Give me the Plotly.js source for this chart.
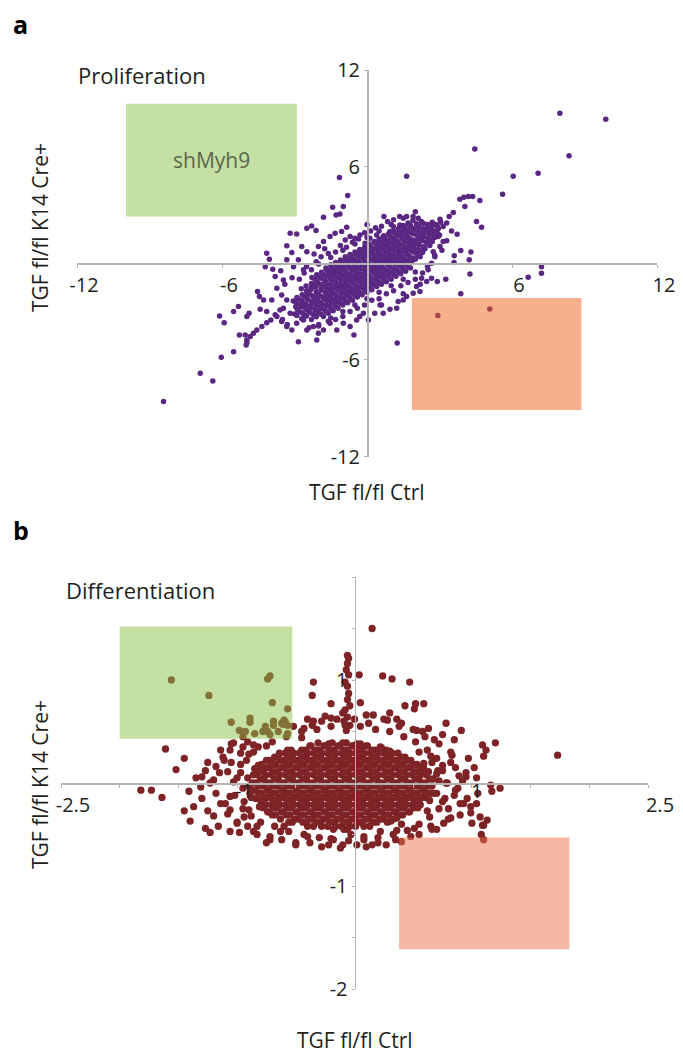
<!DOCTYPE html>
<html><head><meta charset="utf-8">
<script src="https://cdn.plot.ly/plotly-3.0.1.min.js"></script>
<style>html,body{margin:0;padding:0;background:#fff}#chart{width:683px;height:1057px}</style>
</head><body><div id="chart"></div>
<script>
// ---------- Panel a: Proliferation (x = TGF fl/fl Ctrl, y = TGF fl/fl K14 Cre+) ----------
const prolifCore = [
[-3.0,-3.15],[-2.95,-2.7],[-3.05,-2.35],
[-2.8,-3.0],[-2.75,-2.55],[-2.85,-2.2],
[-2.6,-3.2],[-2.55,-2.8],[-2.65,-2.45],[-2.6,-2.05],[-2.5,-1.7],
[-2.4,-3.0],[-2.35,-2.65],[-2.45,-2.25],[-2.4,-1.9],[-2.3,-1.5],
[-2.2,-3.2],[-2.15,-2.85],[-2.25,-2.45],[-2.2,-2.1],[-2.1,-1.75],[-2.25,-1.35],[-2.15,-1.0],
[-2.0,-3.05],[-1.95,-2.7],[-2.05,-2.3],[-2.0,-1.95],[-1.9,-1.55],[-2.05,-1.2],[-1.95,-0.85],
[-1.8,-3.3],[-1.75,-2.9],[-1.85,-2.55],[-1.8,-2.15],[-1.7,-1.8],[-1.85,-1.4],[-1.75,-1.05],[-1.8,-0.7],[-1.7,-0.3],
[-1.6,-3.1],[-1.55,-2.7],[-1.65,-2.35],[-1.6,-2.0],[-1.5,-1.6],[-1.65,-1.25],[-1.55,-0.85],[-1.6,-0.5],[-1.5,-0.1],
[-1.4,-2.95],[-1.35,-2.55],[-1.45,-2.2],[-1.4,-1.85],[-1.3,-1.45],[-1.45,-1.05],[-1.35,-0.7],[-1.4,-0.35],[-1.3,0.05],
[-1.2,-2.8],[-1.15,-2.4],[-1.25,-2.05],[-1.2,-1.65],[-1.1,-1.3],[-1.25,-0.9],[-1.15,-0.55],[-1.2,-0.2],[-1.1,0.2],
[-1.0,-2.6],[-0.95,-2.2],[-1.05,-1.85],[-1.0,-1.5],[-0.9,-1.1],[-1.05,-0.75],[-0.95,-0.35],[-1.0,0.0],[-0.9,0.4],
[-0.8,-2.45],[-0.75,-2.05],[-0.85,-1.7],[-0.8,-1.35],[-0.7,-0.95],[-0.85,-0.6],[-0.75,-0.2],[-0.8,0.15],[-0.7,0.55],
[-0.6,-2.3],[-0.55,-1.9],[-0.65,-1.55],[-0.6,-1.15],[-0.5,-0.8],[-0.65,-0.4],[-0.55,-0.05],[-0.6,0.3],[-0.5,0.7],
[-0.4,-2.1],[-0.35,-1.75],[-0.45,-1.4],[-0.4,-1.0],[-0.3,-0.65],[-0.45,-0.25],[-0.35,0.1],[-0.4,0.5],[-0.3,0.85],
[-0.2,-1.95],[-0.15,-1.55],[-0.25,-1.2],[-0.2,-0.85],[-0.1,-0.45],[-0.25,-0.1],[-0.15,0.3],[-0.2,0.65],[-0.1,1.0],
[0.0,-1.8],[0.05,-1.4],[-0.05,-1.05],[0.0,-0.7],[0.1,-0.3],[-0.05,0.05],[0.05,0.45],[0.0,0.8],[0.1,1.2],
[0.2,-1.65],[0.25,-1.25],[0.15,-0.9],[0.2,-0.5],[0.3,-0.15],[0.15,0.25],[0.25,0.6],[0.2,0.95],[0.3,1.35],
[0.4,-1.45],[0.45,-1.1],[0.35,-0.7],[0.4,-0.35],[0.5,0.05],[0.35,0.4],[0.45,0.8],[0.4,1.15],[0.5,1.5],
[0.6,-1.3],[0.65,-0.9],[0.55,-0.55],[0.6,-0.2],[0.7,0.2],[0.55,0.55],[0.65,0.95],[0.6,1.3],[0.7,1.7],
[0.8,-1.15],[0.85,-0.75],[0.75,-0.4],[0.8,0.0],[0.9,0.35],[0.75,0.75],[0.85,1.1],[0.8,1.45],[0.9,1.85],
[1.0,-1.0],[1.05,-0.6],[0.95,-0.25],[1.0,0.15],[1.1,0.5],[0.95,0.9],[1.05,1.25],[1.0,1.6],[1.1,2.0],
[1.2,-0.8],[1.25,-0.45],[1.15,-0.05],[1.2,0.3],[1.3,0.7],[1.15,1.05],[1.25,1.4],[1.2,1.8],[1.3,2.15],
[1.4,-0.65],[1.45,-0.25],[1.35,0.1],[1.4,0.45],[1.5,0.85],[1.35,1.2],[1.45,1.6],[1.4,1.95],[1.5,2.35],
[1.6,-0.5],[1.65,-0.1],[1.55,0.25],[1.6,0.65],[1.7,1.0],[1.55,1.4],[1.65,1.75],[1.6,2.1],[1.7,2.5],
[1.8,-0.3],[1.85,0.05],[1.75,0.45],[1.8,0.8],[1.9,1.2],[1.75,1.55],[1.85,1.9],[1.8,2.3],[1.9,2.65],
[2.0,0.25],[2.05,0.6],[1.95,0.95],[2.0,1.35],[2.1,1.7],[1.95,2.1],[2.05,2.45],
[2.2,0.4],[2.25,0.75],[2.15,1.15],[2.2,1.5],[2.3,1.9],[2.15,2.25],[2.25,2.6],
[2.4,0.9],[2.45,1.3],[2.35,1.65],[2.4,2.05],[2.5,2.4],
[2.6,1.1],[2.65,1.45],[2.55,1.85],[2.6,2.2],[2.7,2.55],
[2.8,1.6],[2.75,2.0],[2.85,2.4],
[3.0,1.75],[2.95,2.15],[3.05,2.55]
];
const prolifCoreFill = [
[-2.9,-3.24],[-2.88,-2.87],[-2.92,-2.49],[-2.9,-2.12],
[-2.7,-3.44],[-2.68,-3.07],[-2.72,-2.7],[-2.7,-2.32],[-2.68,-1.95],[-2.72,-1.58],
[-2.5,-3.28],[-2.48,-2.91],[-2.52,-2.54],[-2.5,-2.16],[-2.48,-1.79],[-2.52,-1.42],
[-2.3,-3.49],[-2.28,-3.12],[-2.32,-2.75],[-2.3,-2.38],[-2.28,-2.0],[-2.32,-1.63],[-2.3,-1.26],[-2.28,-0.89],
[-2.1,-3.32],[-2.08,-2.95],[-2.12,-2.58],[-2.1,-2.21],[-2.08,-1.83],[-2.12,-1.46],[-2.1,-1.09],[-2.08,-0.72],
[-1.9,-3.16],[-1.88,-2.79],[-1.92,-2.42],[-1.9,-2.05],[-1.88,-1.67],[-1.92,-1.3],[-1.9,-0.93],[-1.88,-0.56],
[-1.7,-2.99],[-1.68,-2.62],[-1.72,-2.25],[-1.7,-1.88],[-1.68,-1.5],[-1.72,-1.13],[-1.7,-0.76],[-1.68,-0.39],
[-1.5,-2.83],[-1.48,-2.46],[-1.52,-2.09],[-1.5,-1.72],[-1.48,-1.34],[-1.52,-0.97],[-1.5,-0.6],[-1.48,-0.23],
[-1.3,-2.67],[-1.28,-2.3],[-1.32,-1.93],[-1.3,-1.56],[-1.28,-1.18],[-1.32,-0.81],[-1.3,-0.44],[-1.28,-0.07],
[-1.1,-2.5],[-1.08,-2.13],[-1.12,-1.76],[-1.1,-1.39],[-1.08,-1.01],[-1.12,-0.64],[-1.1,-0.27],[-1.08,0.1],
[-0.9,-2.34],[-0.88,-1.97],[-0.92,-1.6],[-0.9,-1.23],[-0.88,-0.85],[-0.92,-0.48],[-0.9,-0.11],[-0.88,0.26],
[-0.7,-2.17],[-0.68,-1.8],[-0.72,-1.43],[-0.7,-1.06],[-0.68,-0.68],[-0.72,-0.31],[-0.7,0.06],[-0.68,0.43],
[-0.5,-2.01],[-0.48,-1.64],[-0.52,-1.27],[-0.5,-0.9],[-0.48,-0.52],[-0.52,-0.15],[-0.5,0.22],[-0.48,0.59],
[-0.3,-1.85],[-0.28,-1.48],[-0.32,-1.11],[-0.3,-0.74],[-0.28,-0.36],[-0.32,0.01],[-0.3,0.38],[-0.28,0.75],
[-0.1,-1.68],[-0.08,-1.31],[-0.12,-0.94],[-0.1,-0.57],[-0.08,-0.19],[-0.12,0.18],[-0.1,0.55],[-0.08,0.92],
[0.1,-1.52],[0.12,-1.15],[0.08,-0.78],[0.1,-0.41],[0.12,-0.03],[0.08,0.34],[0.1,0.71],[0.12,1.08],
[0.3,-1.35],[0.32,-0.98],[0.28,-0.61],[0.3,-0.24],[0.32,0.14],[0.28,0.51],[0.3,0.88],[0.32,1.25],
[0.5,-1.19],[0.52,-0.82],[0.48,-0.45],[0.5,-0.08],[0.52,0.3],[0.48,0.67],[0.5,1.04],[0.52,1.41],
[0.7,-1.03],[0.72,-0.66],[0.68,-0.29],[0.7,0.08],[0.72,0.46],[0.68,0.83],[0.7,1.2],[0.72,1.57],
[0.9,-0.86],[0.92,-0.49],[0.88,-0.12],[0.9,0.25],[0.92,0.63],[0.88,1.0],[0.9,1.37],[0.92,1.74],
[1.1,-0.7],[1.12,-0.33],[1.08,0.04],[1.1,0.41],[1.12,0.79],[1.08,1.16],[1.1,1.53],[1.12,1.9],
[1.3,-0.53],[1.32,-0.16],[1.28,0.21],[1.3,0.58],[1.32,0.96],[1.28,1.33],[1.3,1.7],[1.32,2.07],
[1.5,-0.37],[1.52,0.0],[1.48,0.37],[1.5,0.74],[1.52,1.12],[1.48,1.49],[1.5,1.86],[1.52,2.23],
[1.7,-0.21],[1.72,0.16],[1.68,0.53],[1.7,0.9],[1.72,1.28],[1.68,1.65],[1.7,2.02],[1.72,2.39],
[1.9,0.33],[1.92,0.7],[1.88,1.07],[1.9,1.45],[1.92,1.82],[1.88,2.19],
[2.1,0.49],[2.12,0.86],[2.08,1.23],[2.1,1.61],[2.12,1.98],[2.08,2.35],
[2.3,0.66],[2.32,1.03],[2.28,1.4],[2.3,1.78],[2.32,2.15],[2.28,2.52],
[2.5,1.19],[2.52,1.56],[2.48,1.94],[2.5,2.31],
[2.7,1.35],[2.72,1.72],[2.68,2.1],[2.7,2.47],
[2.9,1.89],[2.92,2.27],
[-2.0,-3.8],[-2.0,-0.05],[-1.5,-3.4],[-1.5,0.35],[-1.0,-3.0],[-1.0,0.8],[-0.5,-2.6],[-0.5,1.2],[0.0,-2.2],[0.0,1.6],
[0.5,-1.8],[0.5,2.0],[1.0,-1.4],[1.0,2.4],[1.5,-1.0],[1.5,2.8],[2.0,-0.55],[2.0,3.2]
];
const prolifEdge = [
[-3.4,-1.3],[-3.1,-0.9],[-2.8,-1.0],[-2.6,-0.6],[-2.3,-0.4],[-2.1,0.1],[-1.9,0.4],[-1.6,0.6],[-1.3,0.7],[-1.1,1.1],
[-0.85,1.0],[-0.6,1.3],[-0.35,1.5],[-0.1,1.9],[0.15,2.0],[0.35,2.2],[0.6,2.3],[0.85,2.6],[1.1,2.7],[1.35,2.9],
[-2.5,-0.2],[-1.75,0.9],[-0.9,1.45],[0.0,2.4],[0.7,2.9],
[-2.4,-4.0],[-2.0,-3.9],[-1.6,-3.6],[-1.3,-3.5],[-1.0,-3.3],[-0.7,-3.0],[-0.4,-2.8],[-0.1,-2.6],[0.2,-2.3],[0.5,-2.2],
[0.8,-1.9],[1.1,-1.7],[1.4,-1.4],[1.7,-1.2],[2.0,-1.0],[2.3,-0.6],[2.5,-0.2],[2.8,0.5],[3.1,0.8],[3.3,1.4],
[-0.3,-3.3],[0.6,-2.6],[1.5,-1.9],[2.2,-1.3],
[-3.5,-3.5],[-3.3,-3.8],[-3.6,-2.9],[-3.8,-3.2],[3.3,2.5],[3.5,2.0],[3.4,2.9]
];
const prolifSpread = [
[-3.18,1.86],[-2.91,1.82],[-2.49,2.17],[-2.29,2.32],[-2.11,2.03],[-1.8,2.86],[-1.42,3.48],[-1.28,3.0],[-1.12,3.06],[-0.98,3.52],
[-0.84,2.24],[-0.7,1.66],[-3.32,1.08],[-3.11,0.66],[-2.7,1.04],[-2.49,0.72],[-2.19,0.58],[-2.01,1.04],[-1.8,1.35],[-1.53,1.66],
[-1.32,1.86],[-1.05,1.97],[-0.5,1.55],[-0.29,1.76],[-4.15,0.62],[-4.04,0.25],[-4.21,-0.21],[-3.9,-0.37],[-3.8,-0.83],[-3.57,-0.46],
[-3.46,-1.04],[-3.32,0.21],[-3.04,-0.21],[-2.84,0.21],[-2.63,-0.41],[-4.53,-1.76],[-4.45,-2.07],[-4.28,-2.28],[-4.42,-2.86],[-4.15,-3.0],
[-3.94,-2.28],[-3.73,-1.55],[-3.53,-1.97],[-3.32,-2.28],[-3.46,-2.8],[-3.18,-3.11],[-3.73,-3.31],[-3.53,-3.62],[-3.32,-3.93],[-3.11,-4.14],
[-2.91,-3.73],[-2.63,-3.52],[-2.49,-4.14],[-2.22,-3.93],[-2.01,-4.35],[-1.8,-4.14],[-1.53,-3.73],[-1.25,-4.14],[-0.98,-3.73],[-0.7,-3.93],
[-0.43,-3.52],[-0.15,-3.11],[0.06,-3.52],[0.32,-3.11],[0.54,-2.59],[0.67,-3.11],[1.29,-2.38],[1.5,-2.28],[1.64,-2.07],[1.91,-1.86],
[2.19,-1.76],[2.05,-1.45],[2.47,-1.14],[2.26,-0.93],[2.53,-0.41],[2.67,0.0],[2.81,0.41],[2.74,0.72],[3.02,1.04],[3.15,1.35],
[2.95,1.66],[3.15,2.28],[3.02,2.73],[2.81,2.38],[2.6,2.28],[2.33,2.48],[2.12,2.8],[1.91,2.9],[1.64,2.9],[1.78,2.38],
[1.36,2.38],[1.09,2.28],[0.95,1.97],[0.67,1.66],[0.4,1.76],[0.12,1.55],[-0.08,1.24],
[-4.83,-4.55],[-4.7,-4.35],[-4.56,-4.14],[-4.35,-3.93],[-4.15,-3.69],[-3.98,-3.52],[-4.97,-4.76],[-5.04,-4.45],[-5.28,-4.45],
[-6.1,-3.27],[-5.91,-3.69],[-5.52,-3.0],[-5.32,-2.69],[-4.97,-3.31],[-4.88,-3.11],[-6.03,-5.84],[-5.52,-5.49],[-5.0,-5.07],[-4.97,-4.93],
[-2.08,-4.76],[-2.84,-4.87],[-0.54,-4.45],[-8.42,-8.59],[-6.9,-6.83],[-6.38,-7.31],
[7.98,9.32],[9.88,8.94],[4.46,7.1],[8.36,6.67],[1.64,5.4],[6.05,5.4],[7.08,5.59],[-1.14,5.32],[-0.8,4.2],[5.61,4.29],
[3.84,3.98],[4.01,4.1],[4.19,4.14],[4.37,4.14],[4.05,3.52],[4.67,3.89],[3.57,3.15],[4.53,2.59],[4.74,2.24],[3.73,1.8],
[3.61,0.46],[3.88,0.79],[4.3,0.7],[4.23,0.21],[3.6,0.04],[4.26,-0.66],[7.22,-0.21],[7.22,-0.62],[6.67,-0.87],[3.26,-0.99],
[2.91,-1.14],[2.67,-0.93],[3.88,-1.9],[2.93,-3.25],[5.08,-2.84],[1.25,-4.95],[1.23,-2.8],[0.95,-2.86]
];
// ---------- Panel b: Differentiation ----------
const diffCore = [
[-0.9,-0.03],[-0.91,0.05],[-0.89,-0.1],
[-0.84,0.0],[-0.85,-0.07],[-0.83,0.08],[-0.84,-0.15],[-0.85,0.14],
[-0.78,-0.03],[-0.77,0.04],[-0.79,-0.1],[-0.78,0.12],[-0.77,-0.17],[-0.79,0.18],[-0.78,-0.24],
[-0.72,0.0],[-0.73,-0.07],[-0.71,0.08],[-0.72,-0.14],[-0.73,0.15],[-0.71,-0.21],[-0.72,0.22],[-0.73,-0.28],
[-0.66,-0.03],[-0.65,0.04],[-0.67,-0.1],[-0.66,0.11],[-0.65,-0.17],[-0.67,0.18],[-0.66,-0.24],[-0.65,0.25],[-0.67,-0.31],
[-0.6,0.0],[-0.61,-0.07],[-0.59,0.08],[-0.6,-0.14],[-0.61,0.15],[-0.59,-0.21],[-0.6,0.22],[-0.61,-0.28],[-0.59,0.29],
[-0.54,-0.03],[-0.53,0.04],[-0.55,-0.1],[-0.54,0.11],[-0.53,-0.17],[-0.55,0.18],[-0.54,-0.24],[-0.53,0.25],[-0.55,-0.31],[-0.54,0.32],[-0.53,-0.38],
[-0.48,0.0],[-0.49,-0.07],[-0.47,0.08],[-0.48,-0.14],[-0.49,0.15],[-0.47,-0.21],[-0.48,0.22],[-0.49,-0.28],[-0.47,0.29],[-0.48,-0.35],
[-0.42,-0.03],[-0.41,0.04],[-0.43,-0.1],[-0.42,0.11],[-0.41,-0.17],[-0.43,0.18],[-0.42,-0.24],[-0.41,0.25],[-0.43,-0.31],[-0.42,0.32],[-0.41,-0.38],
[-0.36,0.0],[-0.37,-0.07],[-0.35,0.08],[-0.36,-0.14],[-0.37,0.15],[-0.35,-0.21],[-0.36,0.22],[-0.37,-0.28],[-0.35,0.29],[-0.36,-0.35],[-0.37,0.36],[-0.35,-0.42],
[-0.3,-0.03],[-0.29,0.04],[-0.31,-0.1],[-0.3,0.11],[-0.29,-0.17],[-0.31,0.18],[-0.3,-0.24],[-0.29,0.25],[-0.31,-0.31],[-0.3,0.32],[-0.29,-0.38],[-0.31,0.39],
[-0.24,0.0],[-0.25,-0.07],[-0.23,0.08],[-0.24,-0.14],[-0.25,0.15],[-0.23,-0.21],[-0.24,0.22],[-0.25,-0.28],[-0.23,0.29],[-0.24,-0.35],[-0.25,0.36],[-0.23,-0.42],
[-0.18,-0.03],[-0.17,0.04],[-0.19,-0.1],[-0.18,0.11],[-0.17,-0.17],[-0.19,0.18],[-0.18,-0.24],[-0.17,0.25],[-0.19,-0.31],[-0.18,0.32],[-0.17,-0.38],[-0.19,0.39],[-0.18,-0.45],
[-0.12,0.0],[-0.13,-0.07],[-0.11,0.08],[-0.12,-0.14],[-0.13,0.15],[-0.11,-0.21],[-0.12,0.22],[-0.13,-0.28],[-0.11,0.29],[-0.12,-0.35],[-0.13,0.36],[-0.11,-0.42],
[-0.06,-0.03],[-0.05,0.04],[-0.07,-0.1],[-0.06,0.11],[-0.05,-0.17],[-0.07,0.18],[-0.06,-0.24],[-0.05,0.25],[-0.07,-0.31],[-0.06,0.32],[-0.05,-0.38],[-0.07,0.39],[-0.06,-0.45],
[0.0,0.0],[-0.01,-0.07],[0.01,0.08],[0.0,-0.14],[-0.01,0.15],[0.01,-0.21],[0.0,0.22],[-0.01,-0.28],[0.01,0.29],[0.0,-0.35],[-0.01,0.36],[0.01,-0.42],
[0.06,-0.03],[0.07,0.04],[0.05,-0.1],[0.06,0.11],[0.07,-0.17],[0.05,0.18],[0.06,-0.24],[0.07,0.25],[0.05,-0.31],[0.06,0.32],[0.07,-0.38],[0.05,0.38],
[0.12,0.0],[0.11,-0.07],[0.13,0.08],[0.12,-0.14],[0.11,0.15],[0.13,-0.21],[0.12,0.22],[0.11,-0.28],[0.13,0.29],[0.12,-0.35],[0.11,0.36],[0.13,-0.42],
[0.18,-0.03],[0.19,0.04],[0.17,-0.1],[0.18,0.11],[0.19,-0.17],[0.17,0.18],[0.18,-0.24],[0.19,0.25],[0.17,-0.31],[0.18,0.32],[0.19,-0.38],
[0.24,0.0],[0.23,-0.07],[0.25,0.08],[0.24,-0.14],[0.23,0.15],[0.25,-0.21],[0.24,0.22],[0.23,-0.28],[0.25,0.29],[0.24,-0.35],[0.23,0.34],
[0.3,-0.03],[0.31,0.04],[0.29,-0.1],[0.3,0.11],[0.31,-0.17],[0.29,0.18],[0.3,-0.24],[0.31,0.25],[0.29,-0.31],[0.3,0.31],[0.31,-0.37],
[0.36,0.0],[0.35,-0.07],[0.37,0.08],[0.36,-0.14],[0.35,0.15],[0.37,-0.21],[0.36,0.22],[0.35,-0.28],[0.37,0.29],[0.36,-0.34],
[0.42,-0.03],[0.43,0.04],[0.41,-0.1],[0.42,0.11],[0.43,-0.17],[0.41,0.18],[0.42,-0.24],[0.43,0.25],[0.41,-0.31],
[0.48,0.0],[0.47,-0.07],[0.49,0.08],[0.48,-0.14],[0.47,0.15],[0.49,-0.21],[0.48,0.22],[0.47,-0.28],
[0.54,-0.03],[0.55,0.04],[0.53,-0.1],[0.54,0.11],[0.55,-0.17],[0.53,0.18],[0.54,-0.24],
[0.6,0.0],[0.59,-0.07],[0.61,0.08],[0.6,-0.14],[0.59,0.14],
[0.66,-0.03],[0.67,0.04],[0.65,-0.1]
];
const diffCoreFill = [
[-0.87,0.0],[-0.87,-0.07],[-0.86,0.08],[-0.88,-0.14],
[-0.81,-0.03],[-0.8,0.04],[-0.82,-0.1],[-0.81,0.11],[-0.8,-0.17],[-0.82,0.17],[-0.81,-0.23],
[-0.75,0.0],[-0.74,-0.07],[-0.76,0.08],[-0.75,-0.14],[-0.74,0.15],[-0.76,-0.21],[-0.75,0.22],[-0.74,-0.28],
[-0.69,-0.03],[-0.68,0.04],[-0.7,-0.1],[-0.69,0.11],[-0.68,-0.17],[-0.7,0.18],[-0.69,-0.24],[-0.68,0.25],[-0.7,-0.31],
[-0.63,0.0],[-0.62,-0.07],[-0.64,0.08],[-0.63,-0.14],[-0.62,0.15],[-0.64,-0.21],[-0.63,0.22],[-0.62,-0.28],[-0.64,0.29],[-0.63,-0.35],
[-0.57,-0.03],[-0.56,0.04],[-0.58,-0.1],[-0.57,0.11],[-0.56,-0.17],[-0.58,0.18],[-0.57,-0.24],[-0.56,0.25],[-0.58,-0.31],[-0.57,0.32],[-0.56,-0.38],
[-0.51,0.0],[-0.5,-0.07],[-0.52,0.08],[-0.51,-0.14],[-0.5,0.15],[-0.52,-0.21],[-0.51,0.22],[-0.5,-0.28],[-0.52,0.29],[-0.51,-0.35],
[-0.45,-0.03],[-0.44,0.04],[-0.46,-0.1],[-0.45,0.11],[-0.44,-0.17],[-0.46,0.18],[-0.45,-0.24],[-0.44,0.25],[-0.46,-0.31],[-0.45,0.32],[-0.44,-0.38],
[-0.39,0.0],[-0.38,-0.07],[-0.4,0.08],[-0.39,-0.14],[-0.38,0.15],[-0.4,-0.21],[-0.39,0.22],[-0.38,-0.28],[-0.4,0.29],[-0.39,-0.35],[-0.38,0.36],[-0.4,-0.42],
[-0.33,-0.03],[-0.32,0.04],[-0.34,-0.1],[-0.33,0.11],[-0.32,-0.17],[-0.34,0.18],[-0.33,-0.24],[-0.32,0.25],[-0.34,-0.31],[-0.33,0.32],[-0.32,-0.38],
[-0.27,0.0],[-0.26,-0.07],[-0.28,0.08],[-0.27,-0.14],[-0.26,0.15],[-0.28,-0.21],[-0.27,0.22],[-0.26,-0.28],[-0.28,0.29],[-0.27,-0.35],[-0.26,0.36],[-0.28,-0.42],
[-0.21,-0.03],[-0.2,0.04],[-0.22,-0.1],[-0.21,0.11],[-0.2,-0.17],[-0.22,0.18],[-0.21,-0.24],[-0.2,0.25],[-0.22,-0.31],[-0.21,0.32],[-0.2,-0.38],[-0.22,0.38],
[-0.15,0.0],[-0.14,-0.07],[-0.16,0.08],[-0.15,-0.14],[-0.14,0.15],[-0.16,-0.21],[-0.15,0.22],[-0.14,-0.28],[-0.16,0.29],[-0.15,-0.35],[-0.14,0.36],[-0.16,-0.42],
[-0.09,-0.03],[-0.08,0.04],[-0.1,-0.1],[-0.09,0.11],[-0.08,-0.17],[-0.1,0.18],[-0.09,-0.24],[-0.08,0.25],[-0.1,-0.31],[-0.09,0.32],[-0.08,-0.38],[-0.1,0.39],[-0.09,-0.45],
[-0.03,0.0],[-0.02,-0.07],[-0.04,0.08],[-0.03,-0.14],[-0.02,0.15],[-0.04,-0.21],[-0.03,0.22],[-0.02,-0.28],[-0.04,0.29],[-0.03,-0.35],[-0.02,0.36],[-0.04,-0.42],
[0.03,-0.03],[0.04,0.04],[0.02,-0.1],[0.03,0.11],[0.04,-0.17],[0.02,0.18],[0.03,-0.24],[0.04,0.25],[0.02,-0.31],[0.03,0.32],[0.04,-0.38],[0.02,0.38],
[0.09,0.0],[0.1,-0.07],[0.08,0.08],[0.09,-0.14],[0.1,0.15],[0.08,-0.21],[0.09,0.22],[0.1,-0.28],[0.08,0.29],[0.09,-0.35],[0.1,0.36],[0.08,-0.42],
[0.15,-0.03],[0.16,0.04],[0.14,-0.1],[0.15,0.11],[0.16,-0.17],[0.14,0.18],[0.15,-0.24],[0.16,0.25],[0.14,-0.31],[0.15,0.32],[0.16,-0.38],
[0.21,0.0],[0.22,-0.07],[0.2,0.08],[0.21,-0.14],[0.22,0.15],[0.2,-0.21],[0.21,0.22],[0.22,-0.28],[0.2,0.29],[0.21,-0.35],[0.22,0.35],
[0.27,-0.03],[0.28,0.04],[0.26,-0.1],[0.27,0.11],[0.28,-0.17],[0.26,0.18],[0.27,-0.24],[0.28,0.25],[0.26,-0.31],[0.27,0.32],[0.28,-0.38],
[0.33,0.0],[0.34,-0.07],[0.32,0.08],[0.33,-0.14],[0.34,0.15],[0.32,-0.21],[0.33,0.22],[0.34,-0.28],[0.32,0.29],[0.33,-0.35],
[0.39,-0.03],[0.4,0.04],[0.38,-0.1],[0.39,0.11],[0.4,-0.17],[0.38,0.18],[0.39,-0.24],[0.4,0.25],[0.38,-0.31],
[0.45,0.0],[0.46,-0.07],[0.44,0.08],[0.45,-0.14],[0.46,0.15],[0.44,-0.21],[0.45,0.22],[0.46,-0.28],
[0.51,-0.03],[0.52,0.04],[0.5,-0.1],[0.51,0.11],[0.52,-0.17],[0.5,0.18],[0.51,-0.24],
[0.57,0.0],[0.58,-0.07],[0.56,0.08],[0.57,-0.14],[0.58,0.15],[0.56,-0.21],
[0.63,-0.03],[0.64,0.04],[0.62,-0.1],[0.63,0.11],[0.64,-0.17]
];
const diffEdge = [
[-1.18,-0.1],[-1.15,0.1],[-1.08,-0.3],[-1.05,0.2],[-0.98,-0.48],[-0.95,0.35],[-0.85,0.48],[-0.83,-0.42],[-0.65,0.5],[-0.62,-0.55],
[-0.52,0.55],[-0.38,-0.58],[-0.35,0.6],[-0.22,-0.6],[-0.15,0.62],[0.02,-0.6],[0.0,0.62],[0.15,-0.6],[0.12,0.58],[0.35,-0.55],
[0.38,0.55],[0.55,-0.5],[0.58,0.5],[0.7,-0.45],[0.68,0.42],[0.8,-0.25],[0.82,0.2],[0.85,-0.12],[0.92,0.02],[0.96,-0.15],
[1.02,0.15],[1.05,-0.1],[-1.25,0.2],[-1.2,-0.32],[-1.35,0.05],[-1.3,-0.15],
[-0.95,-0.05],[-0.97,0.1],[-0.94,-0.18],[0.72,0.02],[0.7,-0.1],[0.71,0.12],
[-0.92,0.22],[-0.9,-0.26],[-0.86,0.3],[-0.75,0.36],[-0.6,-0.42],[-0.45,0.44],[0.4,-0.4],[0.55,0.3],[0.62,-0.27],[0.66,0.2]
];
const diffSpread = [
[-1.0,0.05],[-1.02,-0.12],[-0.97,0.18],[-0.95,-0.25],[-0.9,0.28],[-0.88,-0.32],[-0.82,0.35],[-0.8,-0.38],[-0.7,0.4],[-0.68,-0.42],
[-0.58,0.45],[-0.56,-0.47],[-0.45,0.5],[-0.43,-0.5],[-0.32,0.52],[-0.3,-0.53],[-0.2,0.55],[-0.18,-0.55],[-0.08,0.56],[-0.05,-0.56],
[0.05,0.55],[0.08,-0.55],[0.18,0.52],[0.2,-0.53],[0.3,0.5],[0.33,-0.5],[0.42,0.45],[0.45,-0.46],[0.52,0.4],[0.55,-0.4],
[0.62,0.32],[0.64,-0.33],[0.7,0.24],[0.72,-0.25],[0.75,0.12],[0.77,-0.15],[0.78,0.0],
[-1.12,0.25],[-1.1,-0.2],[-1.05,0.38],[-1.0,-0.38],[-0.95,0.45],[-0.78,0.5],[-0.72,-0.55],[-0.62,0.58],[-0.5,-0.6],[-0.4,0.62],
[-0.25,0.65],[-0.28,-0.62],[-0.1,0.68],[-0.12,-0.63],[0.1,0.66],[0.1,-0.62],[0.25,0.62],[0.27,-0.6],[0.4,0.58],[0.5,0.52],
[0.48,-0.52],[0.6,0.45],[0.66,-0.45],[0.72,0.38],[0.8,-0.35],[0.82,0.3],[0.86,0.15],[0.88,-0.05],[0.9,-0.2],[0.95,0.1],
[-1.56,1.0],[-1.24,0.85],[-0.74,1.01],[-0.72,1.04],[-0.7,0.78],[-0.57,0.72],[-1.05,0.59],[-0.89,0.63],[-0.89,0.59],[-0.98,0.51],
[-0.93,0.5],[-0.76,0.55],[-0.74,0.5],[-0.72,0.47],[-0.69,0.6],[-0.69,0.56],[-0.6,0.61],[-0.59,0.59],[-0.57,0.56],[-0.61,0.57],[-0.57,0.48],
[-0.06,1.24],[-0.05,1.21],[-0.06,1.16],[-0.07,1.1],[-0.05,1.05],[-0.08,0.98],[-0.06,0.94],[-0.05,0.87],[-0.06,0.81],[-0.04,0.75],
[-0.08,0.71],[-0.06,0.64],[-0.09,0.6],[-0.04,0.56],[-0.07,0.51],[0.15,1.5],
[0.04,1.05],[0.24,1.04],[0.32,1.01],[0.47,0.98],[-0.35,0.98],[-0.36,0.85],[0.05,0.78],[-0.2,0.77],[0.16,0.66],[0.3,0.68],
[0.43,0.75],[0.52,0.77],[0.59,0.77],[0.51,0.72],[0.28,0.61],[0.36,0.62],[0.78,0.58],[0.91,0.51],[0.53,0.51],[0.63,0.53],
[0.75,0.47],[-0.36,0.56],[-0.28,0.6],[-0.2,0.63],[-0.43,0.53],
[-1.61,0.33],[-1.45,0.24],[-1.52,0.13],[-1.27,0.12],[-1.82,-0.07],[-1.73,-0.07],[-1.64,-0.14],[-1.41,-0.08],[-1.45,-0.27],[-1.37,-0.23],
[-1.4,-0.37],[-1.25,-0.27],[-1.27,-0.44],[-1.23,-0.48],[-1.16,-0.42],[-1.31,-0.04],[-1.23,0.0],[-1.2,0.03],[-1.3,0.06],[-1.18,0.16],
[-1.11,0.22],[-1.06,0.32],[-1.03,0.39],[-0.91,0.4],[-0.86,0.37],[-0.97,0.29],[-1.14,0.32],[-1.08,0.11],[-1.03,0.01],[-1.06,-0.13],
[-1.14,-0.2],[-1.06,-0.26],[-1.0,-0.39],[-0.94,-0.33],[-1.06,-0.47],[-0.86,-0.47],[-0.91,-0.42],[-0.83,-0.5],[-0.72,-0.52],[-0.63,-0.47],
[-0.4,-0.52],[-0.2,-0.54],[-0.03,-0.5],[0.08,-0.52],[0.22,-0.47],[0.36,-0.46],[0.51,-0.44],[0.65,-0.42],[0.76,-0.39],[0.82,-0.34],
[0.9,-0.31],[0.99,-0.29],[1.07,-0.33],[1.13,-0.36],[1.1,-0.41],[1.0,-0.39],[1.09,-0.41],
[-0.5,-0.58],[-0.1,-0.6],[0.2,-0.58],[-0.75,-0.58],[0.4,-0.57],[1.08,-0.5],[1.1,-0.55],
[1.2,0.39],[1.09,0.37],[1.12,0.32],[1.1,0.26],[0.97,0.24],[0.83,0.27],[0.85,0.42],[1.04,0.05],[0.95,0.06],[0.89,0.07],
[1.16,-0.02],[1.24,-0.05],[1.17,-0.08],[1.04,-0.2],[0.93,-0.2],[0.99,-0.23],[0.75,-0.18],[0.68,-0.1],[0.79,0.0],[0.86,-0.07],
[0.7,0.09],[0.75,0.17],[0.65,0.26],[0.59,0.19],[1.73,0.27]
];
// highlight boxes [x0, x1, y0, y1]
const prolifGreenBox = [-9.97, -2.9, 2.9, 9.9];
const prolifSalmonBox = [1.86, 8.87, -9.11, -2.16];
const diffGreenBox = [-2.0, -0.53, 0.43, 1.52];
const diffSalmonBox = [0.38, 1.83, -1.615, -0.53];
// ticks
const prolifTickVals = [-12, -6, 6, 12];
const prolifTickText = ['-12', '-6', '6', '12'];
const diffXTickVals = [-2.5, -2, -1.5, -1, -0.5, 0.5, 1, 1.5, 2, 2.5];
const diffXTickText = ['-2.5', '', '', '', '', '', '', '', '', '2.5'];
const diffXInnerLabels = [-1, 1];
const diffYTickVals = [-2, -1.5, -1, -0.5, 0.5, 1, 1.5, 2];
const diffYTickText = ['-2', '', '-1', '', '', '1', '', ''];

const W = 683, H = 1057;
const FONT = 'Open Sans, Noto Sans, sans-serif';
const INK = '#231f20';
const AX = '#b3b3b3';
const fx = v => v / W, fy = v => 1 - v / H;

const aDomX = [fx(77), fx(657)], aDomY = [fy(456.5), fy(70)];
const bDomX = [fx(61), fx(648)], bDomY = [fy(989), fy(577)];
const mid = d => (d[0] + d[1]) / 2;

function axisBase(extra) {
  return Object.assign({
    anchor: 'free', showline: true, linecolor: AX, linewidth: 1.5,
    ticks: 'outside', ticklen: 3, tickwidth: 1, tickcolor: AX,
    showgrid: false, zeroline: false, fixedrange: true,
    tickfont: {family: FONT, size: 20, color: INK}
  }, extra);
}

const prolifAll = prolifCore.concat(prolifCoreFill, prolifEdge, prolifSpread);
const diffAll = diffCore.concat(diffCoreFill, diffEdge, diffSpread);

const traces = [
  {x: prolifAll.map(p => p[0]), y: prolifAll.map(p => p[1]),
   type: 'scatter', mode: 'markers', xaxis: 'x', yaxis: 'y',
   marker: {color: '#5a2782', size: 5.5, line: {width: 0}}, hoverinfo: 'skip'},
  {x: diffAll.map(p => p[0]), y: diffAll.map(p => p[1]),
   type: 'scatter', mode: 'markers', xaxis: 'x2', yaxis: 'y2',
   marker: {color: '#7e2426', size: 7.3, line: {width: 0}}, hoverinfo: 'skip'}
];

function box(b, xr, yr, color) {
  return {type: 'rect', xref: xr, yref: yr, x0: b[0], x1: b[1], y0: b[2], y1: b[3],
          fillcolor: color, line: {width: 0}, layer: 'above'};
}

const ann = (o) => Object.assign({showarrow: false, font: {family: FONT, size: 21, color: INK}}, o);

const layout = {
  width: W, height: H, margin: {l: 0, r: 0, t: 0, b: 0},
  paper_bgcolor: '#fff', plot_bgcolor: 'rgba(0,0,0,0)', showlegend: false,
  xaxis: axisBase({domain: aDomX, range: [-12, 12], position: mid(aDomY),
    tickvals: prolifTickVals, ticktext: prolifTickText, ticklabelshift: 7}),
  yaxis: axisBase({domain: aDomY, range: [-12, 12], position: mid(aDomX),
    tickvals: prolifTickVals, ticktext: prolifTickText}),
  xaxis2: axisBase({domain: bDomX, range: [-2.5, 2.5], position: mid(bDomY),
    tickvals: diffXTickVals, ticktext: diffXTickText, ticklabelshift: 12}),
  yaxis2: axisBase({domain: bDomY, range: [-2, 2], position: mid(bDomX),
    tickvals: diffYTickVals, ticktext: diffYTickText}),
  shapes: [
    box(prolifGreenBox, 'x', 'y', 'rgba(137,193,69,0.5)'),
    box(prolifSalmonBox, 'x', 'y', 'rgba(239,97,25,0.5)'),
    box(diffGreenBox, 'x2', 'y2', 'rgba(137,193,69,0.5)'),
    box(diffSalmonBox, 'x2', 'y2', 'rgba(233,113,75,0.5)')
  ],
  annotations: [
    ann({text: '<b>a</b>', xref: 'paper', yref: 'paper', x: fx(11), y: fy(24), xanchor: 'left', yanchor: 'middle', font: {family: FONT, size: 25, color: '#000'}}),
    ann({text: 'Proliferation', xref: 'paper', yref: 'paper', x: fx(76), y: fy(75), xanchor: 'left', yanchor: 'middle', font: {family: FONT, size: 22, color: INK}}),
    ann({text: 'shMyh9', xref: 'x', yref: 'y', x: (prolifGreenBox[0] + prolifGreenBox[1]) / 2, y: (prolifGreenBox[2] + prolifGreenBox[3]) / 2, xanchor: 'center', yanchor: 'middle', font: {family: FONT, size: 21, color: '#5c6651'}}),
    ann({text: 'TGF fl/fl K14 Cre+', xref: 'paper', yref: 'paper', x: fx(40), y: fy(228), textangle: -90, xanchor: 'center', yanchor: 'middle'}),
    ann({text: 'TGF fl/fl Ctrl', xref: 'paper', yref: 'paper', x: fx(367), y: fy(492), xanchor: 'center', yanchor: 'middle'}),
    ann({text: '<b>b</b>', xref: 'paper', yref: 'paper', x: fx(11), y: fy(530), xanchor: 'left', yanchor: 'middle', font: {family: FONT, size: 25, color: '#000'}}),
    ann({text: 'Differentiation', xref: 'paper', yref: 'paper', x: fx(64), y: fy(590), xanchor: 'left', yanchor: 'middle', font: {family: FONT, size: 22, color: INK}}),
    ann({text: 'TGF fl/fl K14 Cre+', xref: 'paper', yref: 'paper', x: fx(40), y: fy(785), textangle: -90, xanchor: 'center', yanchor: 'middle'}),
    ann({text: 'TGF fl/fl Ctrl', xref: 'paper', yref: 'paper', x: fx(355), y: fy(1040), xanchor: 'center', yanchor: 'middle'}),
    ann({text: String(diffXInnerLabels[0]), xref: 'x2', yref: 'y2', x: diffXInnerLabels[0], y: 0, xshift: 7, yshift: -7, xanchor: 'center', yanchor: 'middle', font: {family: FONT, size: 20, color: INK}}),
    ann({text: String(diffXInnerLabels[1]), xref: 'x2', yref: 'y2', x: diffXInnerLabels[1], y: 0, xshift: 5, yshift: -7, xanchor: 'center', yanchor: 'middle', font: {family: FONT, size: 20, color: INK}})
  ]
};

Plotly.newPlot('chart', traces, layout, {staticPlot: true, displayModeBar: false});
</script>
</body></html>
